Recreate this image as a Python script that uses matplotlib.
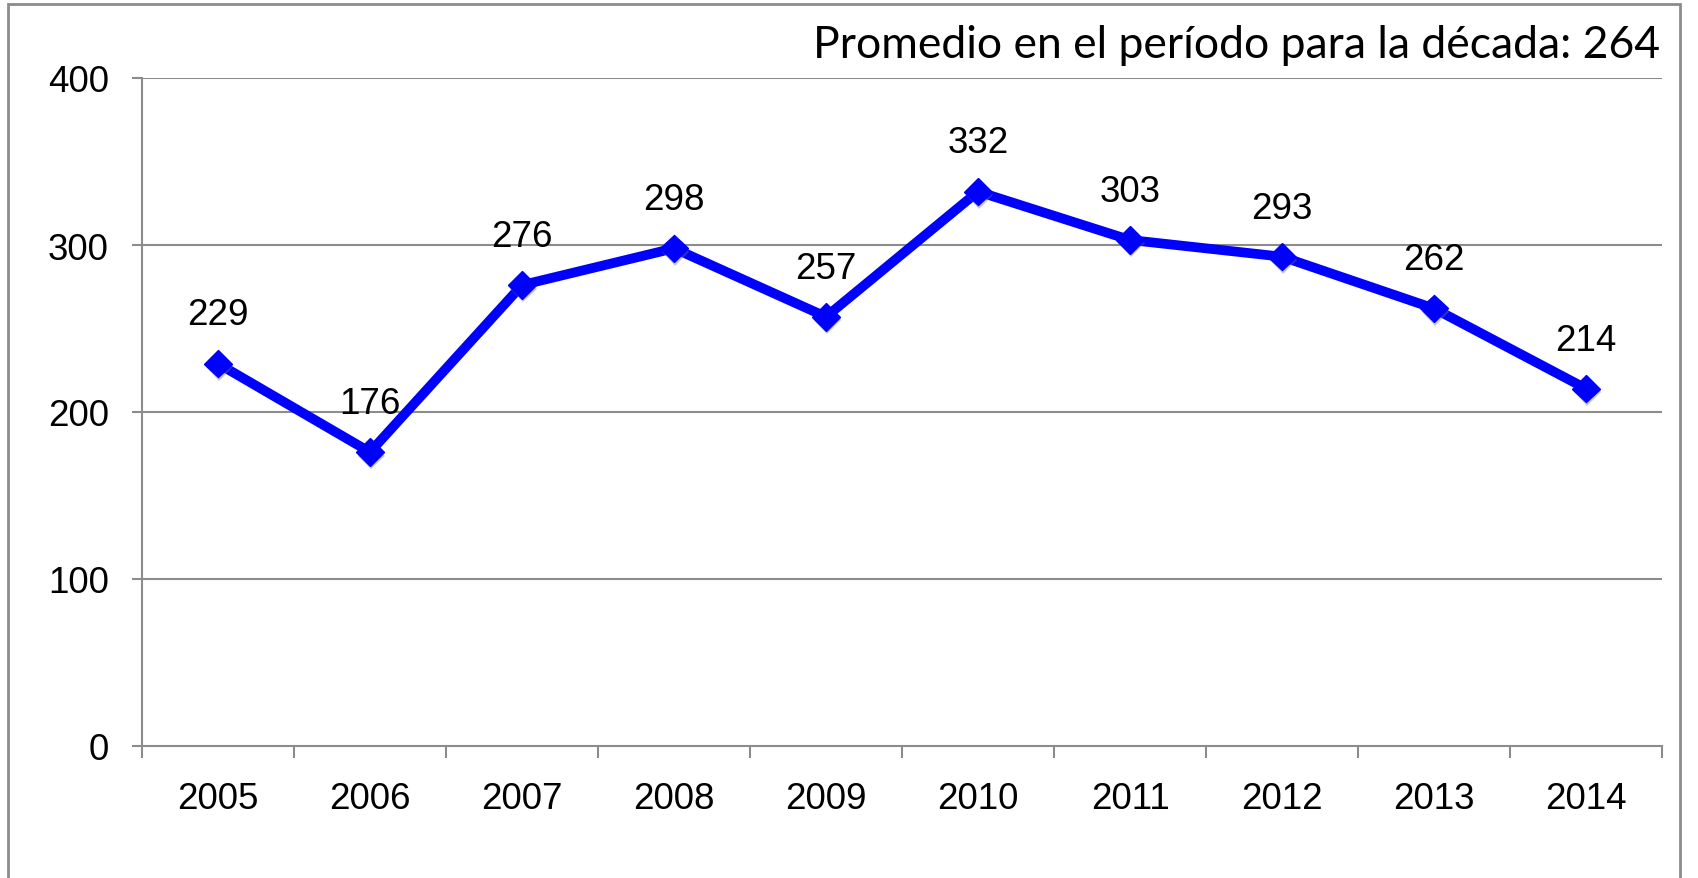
import matplotlib
matplotlib.use("Agg")
import matplotlib.pyplot as plt
from matplotlib.patches import Rectangle
from matplotlib.ticker import FixedLocator
import matplotlib.patheffects as pe

# data
years = ["2005", "2006", "2007", "2008", "2009", "2010", "2011", "2012", "2013", "2014"]
values = [229, 176, 276, 298, 257, 332, 303, 293, 262, 214]
y_ticks = [0, 100, 200, 300, 400]
note = "Promedio en el período para la década: 264"

plt.rcParams["font.family"] = ["Liberation Sans", "DejaVu Sans"]
grey = "#8c8c8c"

fig = plt.figure(figsize=(16.98, 8.79), dpi=100)
ax = fig.add_axes([142 / 1698, 1 - 747 / 879, 1520 / 1698, 668 / 879])

x = list(range(len(years)))

# gridlines
for t in y_ticks[1:]:
    ax.axhline(t, color=grey, lw=1.5, zorder=1)

# line + diamond markers (with a soft shadow)
ax.plot(x, values, color="#0000ff", lw=7, zorder=3, solid_capstyle="butt")
ax.plot(x, values, ls="none", marker="D", ms=14, color="#0000ff", zorder=4,
        path_effects=[pe.SimplePatchShadow(offset=(1, -2.5), shadow_rgbFace="#777777", alpha=0.4),
                      pe.Normal()])

# value labels
for xi, v in zip(x, values):
    ax.annotate(str(v), (xi, v), xytext=(0, 35), textcoords="offset points",
                ha="center", va="center", fontsize=26.5, zorder=5)

ax.set_xlim(-0.5, len(years) - 0.5)
ax.set_ylim(0, 400)

ax.set_yticks(y_ticks)
ax.set_yticklabels([str(t) for t in y_ticks], fontsize=26.5)
ax.tick_params(axis="y", length=7, width=1.5, color=grey, pad=17)

ax.set_xticks(x)
ax.set_xticklabels(years, fontsize=26.5)
ax.xaxis.set_minor_locator(FixedLocator([i - 0.5 for i in range(len(years) + 1)]))
ax.tick_params(axis="x", which="major", length=0, pad=25)
ax.tick_params(axis="x", which="minor", length=8.6, width=1.5, color=grey)

for s in ["top", "right"]:
    ax.spines[s].set_visible(False)
for s in ["left", "bottom"]:
    ax.spines[s].set_color(grey)
    ax.spines[s].set_linewidth(1.5)

# note at top right
fig.text(1660 / 1698, 1 - 45 / 879, note, ha="right", va="center",
         fontsize=32, family=["Lato", "DejaVu Sans"])

# outer border of the chart area
fig.patches.append(Rectangle((8 / 1698, -0.05), (1680 - 8) / 1698, 1.05 - 5 / 879,
                             transform=fig.transFigure, fill=False,
                             edgecolor=grey, lw=2, clip_on=False))

fig.savefig("out.png", dpi=100)
